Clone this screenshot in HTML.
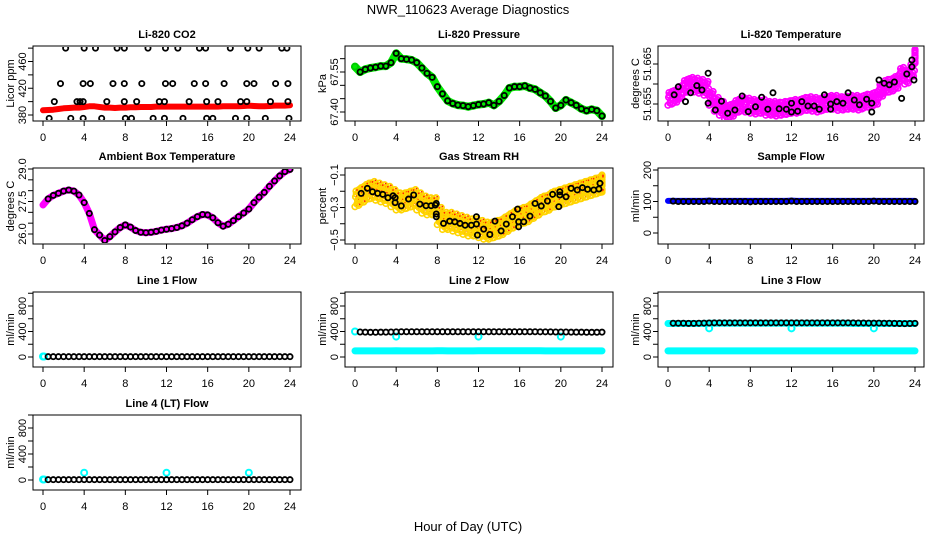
<!DOCTYPE html>
<html><head><meta charset="utf-8"><title>NWR_110623 Average Diagnostics</title>
<style>
html,body{margin:0;padding:0;background:#fff;}
svg{display:block;font-family:"Liberation Sans",Arial,sans-serif;}
</style></head>
<body>
<svg id="fig" width="936" height="540" viewBox="0 0 936 540">
<rect x="0" y="0" width="936" height="540" fill="#fff"/>
<text x="468" y="14" font-size="13" text-anchor="middle">NWR_110623  Average Diagnostics</text>
<text x="468" y="531" font-size="13" text-anchor="middle">Hour of Day (UTC)</text>
</svg>
<script>
// ---------- data ----------
const xTicks = [0,4,8,12,16,20,24];
const halfHours = [0,0.5,1,1.5,2,2.5,3,3.5,4,4.5,5,5.5,6,6.5,7,7.5,8,8.5,9,9.5,10,10.5,11,11.5,12,12.5,13,13.5,14,14.5,15,15.5,16,16.5,17,17.5,18,18.5,19,19.5,20,20.5,21,21.5,22,22.5,23,23.5,24];

// CO2
const co2Red = [387,387.5,388,389,390,390.5,391,391,392,393,393,392,391,391,390.5,391,391,391.5,391.5,392,392,392,392.5,392.5,392.5,392.5,392.5,392.5,392.5,392.5,392.5,392.5,392.5,392.5,392.5,393,393,393,393,393.5,394,393.5,393,393,393.5,394,394,394,394.5];
const co2BlackHours = [2.2,4.0,5.1,7.2,7.9,10.2,11.9,13.1,15.2,15.8,18.2,19.9,21.0,23.2,23.7,
 1.7,3.9,4.6,6.8,7.9,9.6,11.9,12.6,14.7,15.8,17.6,19.8,20.5,22.6,23.8,
 1.1,3.3,3.6,3.9,6.2,7.9,9.1,11.3,11.8,14.2,15.9,17.0,19.2,19.8,22.1,23.8,
 0.6,2.7,3.9,5.7,8.0,8.6,10.7,11.8,13.6,15.9,16.5,18.7,19.8,21.6,23.9];
const co2BlackValues = [480,480,480,480,480,480,480,480,480,480,480,480,480,480,480,
 427,427,427,427,427,427,427,427,427,427,427,427,427,427,427,
 400,400,400,400,400,400,400,400,400,400,400,400,400,400,400,400,
 375,375,375,375,375,375,375,375,375,375,375,375,375,375,375];
const co2Ticks = [380,400,420,440,460,480];
const co2Labels = [380,420,460];

// Pressure
const pressure = [67.570,67.550,67.560,67.565,67.568,67.572,67.572,67.585,67.620,67.600,67.598,67.595,67.585,67.565,67.545,67.530,67.495,67.468,67.442,67.432,67.426,67.424,67.420,67.424,67.428,67.430,67.435,67.425,67.440,67.462,67.490,67.495,67.495,67.498,67.490,67.485,67.472,67.460,67.440,67.415,67.425,67.445,67.435,67.425,67.412,67.405,67.410,67.405,67.385];
const pressureTicks = [67.40,67.45,67.50,67.55,67.60];
const pressureLabels = ["67.40","67.55"];

// Li-820 temperature
const tempMagenta = [51.6565,51.6570,51.6580,51.6595,51.6600,51.6598,51.6595,51.6590,51.6565,51.6550,51.6540,51.6530,51.6535,51.6545,51.6550,51.6548,51.6545,51.6543,51.6545,51.6540,51.6540,51.6538,51.6540,51.6542,51.6545,51.6545,51.6550,51.6552,51.6550,51.6548,51.6552,51.6555,51.6555,51.6552,51.6553,51.6555,51.6555,51.6553,51.6558,51.6560,51.6565,51.6585,51.6595,51.6598,51.6605,51.6625,51.6618,51.6635,51.6670];
const tempSpread = 0.0018;
const tempBlackHours = [0.6,1.0,1.7,2.2,2.8,3.3,3.9,3.9,4.6,5.2,5.8,6.5,7.2,7.8,8.5,9.1,9.7,10.2,10.8,11.5,12.0,12.0,12.6,13.0,13.6,14.2,14.7,15.2,15.8,15.8,16.4,17.0,17.5,18.1,18.6,19.3,19.8,19.8,20.5,21.0,21.5,22.0,22.7,23.2,23.7,23.7,23.9];
const tempBlackValues = [51.6573,51.6593,51.6556,51.6578,51.6596,51.6585,51.6627,51.6552,51.6535,51.6557,51.6527,51.6535,51.6570,51.6531,51.6543,51.6567,51.6537,51.6578,51.6538,51.6537,51.6552,51.6530,51.6532,51.6556,51.6545,51.6545,51.6537,51.6573,51.6550,51.6537,51.6556,51.6552,51.6578,51.6560,51.6548,51.6562,51.6552,51.6530,51.6610,51.6602,51.6598,51.6605,51.6564,51.6625,51.6643,51.6660,51.6610];
const tempTicks = [51.655,51.660,51.665];
const tempLabels = ["51.655","51.665"];

// Ambient box temperature
const ambient = [27.34,27.62,27.78,27.88,27.98,28.03,27.98,27.80,27.45,26.95,26.20,25.95,25.70,25.88,26.10,26.30,26.42,26.32,26.16,26.08,26.06,26.08,26.12,26.18,26.22,26.25,26.30,26.38,26.50,26.66,26.80,26.90,26.88,26.75,26.52,26.36,26.45,26.62,26.80,26.97,27.15,27.45,27.70,27.92,28.20,28.45,28.68,28.88,28.98];
const ambientTicks = [26.0,26.5,27.0,27.5,28.0,28.5,29.0];
const ambientLabels = ["26.0","27.5","29.0"];

// Gas stream RH
const rhCloud = [-0.24,-0.22,-0.20,-0.19,-0.20,-0.21,-0.22,-0.24,-0.26,-0.26,-0.25,-0.24,-0.26,-0.28,-0.29,-0.29,-0.35,-0.38,-0.38,-0.39,-0.40,-0.41,-0.42,-0.42,-0.43,-0.44,-0.44,-0.43,-0.42,-0.40,-0.38,-0.36,-0.35,-0.34,-0.32,-0.30,-0.28,-0.27,-0.25,-0.24,-0.23,-0.22,-0.21,-0.20,-0.19,-0.18,-0.17,-0.16,-0.15];
const rhSpread = 0.055;
const rhBlackHours = [0.6,1.2,1.7,2.2,2.7,3.2,3.7,3.9,3.9,4.5,5.2,5.7,6.3,6.9,7.4,7.8,7.9,7.9,7.9,8.6,9.2,9.7,10.2,10.7,11.3,11.8,11.8,11.9,12.5,13.1,13.6,14.2,14.7,15.3,15.8,15.9,15.9,16.4,17.0,17.5,18.1,18.7,19.2,19.8,19.9,19.9,20.5,21.0,21.6,22.1,22.6,23.2,23.7,23.8];
const rhBlackValues = [-0.213,-0.182,-0.203,-0.213,-0.219,-0.240,-0.228,-0.240,-0.270,-0.290,-0.248,-0.223,-0.279,-0.289,-0.289,-0.285,-0.275,-0.340,-0.357,-0.398,-0.384,-0.388,-0.398,-0.409,-0.409,-0.357,-0.402,-0.470,-0.433,-0.466,-0.384,-0.444,-0.402,-0.357,-0.310,-0.388,-0.419,-0.388,-0.353,-0.275,-0.291,-0.260,-0.219,-0.295,-0.203,-0.223,-0.234,-0.182,-0.192,-0.178,-0.188,-0.192,-0.186,-0.151];
const rhTicks = [-0.5,-0.4,-0.3,-0.2,-0.1];
const rhLabels = ["-0.5","-0.3","-0.1"];

// Sample flow
const sampleBlue = [102,102,102,102,102,102,102,102,103,102,102,102,102,102,102,102,102,102,102,102,102,102,102,102,103,102,102,102,102,102,102,102,102,102,102,102,102,102,102,102,102,102,102,102,102,102,102,102,102];
const sampleBlack = [101,100,100,100,100,100,100,101,100,100,100,100,100,100,100,99,100,100,100,100,100,100,100,101,100,100,100,100,100,100,100,100,100,100,100,100,100,100,100,101,100,100,100,100,100,100,100,100];
const sampleTicks = [0,50,100,150,200];
const sampleLabels = [0,100,200];

// Line flows
const flowTicks = [0,200,400,600,800,1000];
const flowLabels = [0,400,800];
const line1Black = [5,5,5,5,5,5,5,5,5,5,5,5,5,5,5,5,5,5,5,5,5,5,5,5,5,5,5,5,5,5,5,5,5,5,5,5,5,5,5,5,5,5,5,5,5,5,5,5];
const line1CyanHours = [0,0.1];
const line1CyanValues = [8,8];
const line2Black = [392,390,388,388,390,390,392,394,396,396,396,396,396,396,396,396,396,396,396,396,396,396,396,396,396,396,396,396,396,396,396,396,396,396,396,395,395,394,392,392,392,390,390,390,388,388,388,390];
const line2Low = [95,95,95,95,95,95,95,95,97,95,95,95,95,95,95,95,97,97,95,95,95,95,95,95,97,97,97,97,97,97,97,97,97,97,97,97,97,95,95,95,95,95,95,95,95,95,95,95,95];
const line2CyanHours = [0,4,12,20];
const line2CyanValues = [400,320,320,320];
const line3Black = [530,530,530,528,528,530,532,534,536,536,536,536,536,536,536,536,536,536,536,536,536,536,536,536,536,536,536,536,536,536,536,536,536,536,536,536,534,534,532,532,532,530,530,528,526,524,526,528];
const line3High = [525,525,525,525,525,525,525,525,530,530,530,530,530,530,530,530,530,530,530,530,530,530,530,530,530,530,530,530,530,530,530,530,530,530,530,530,525,525,525,525,525,525,525,525,525,525,525,525,525];
const line3Low = [95,95,95,95,95,95,95,95,95,95,95,95,95,95,95,95,95,95,95,95,95,95,95,95,95,95,95,95,95,95,95,95,95,95,95,95,95,95,95,95,95,95,95,95,95,95,95,95,95];
const line3CyanHours = [4,12,20];
const line3CyanValues = [450,450,450];
const line4Black = [5,5,5,5,5,5,5,5,5,5,5,5,5,5,5,5,5,5,5,5,5,5,5,5,5,5,5,5,5,5,5,5,5,5,5,5,5,5,5,5,5,5,5,5,5,5,5,5];
const line4CyanHours = [0,0.1,4,12,20];
const line4CyanValues = [8,8,112,112,112];

// ---------- drawing ----------
const NS = "http://www.w3.org/2000/svg";
const svg = document.getElementById("fig");
const defs = document.createElementNS(NS, "defs");
svg.appendChild(defs);
const cols = [[33,301],[345,613],[658,924]];
const rows = [[46,121],[168,244],[292,367],[415,490]];
let clipN = 0;
function mk(tag, attrs, parent){
  const e = document.createElementNS(NS, tag);
  for (const k in attrs) e.setAttribute(k, attrs[k]);
  (parent||svg).appendChild(e);
  return e;
}
function slug(s){return s.toLowerCase().replace(/[^a-z0-9]+/g,'-').replace(/^-|-$/g,'');}

function panel(c, r, title, ylab, v1, y1, v2, y2, ticks, labels){
  const L = cols[c][0], R = cols[c][1], T = rows[r][0], B = rows[r][1];
  const g = mk("g", {});
  
  
  const x0 = L + 10, x24 = x0 + 247;
  const X = h => x0 + (h/24)*(x24-x0);
  const Y = v => y1 + (v - v1)*(y2-y1)/(v2-v1);
  const cid = "clip" + (clipN++);
  const cp = mk("clipPath", {id:cid}, defs);
  mk("rect", {x:L+1, y:T+1, width:R-L-2, height:B-T-2}, cp);
  const t = mk("text", {x:(L+R)/2, y:T-8, "font-size":11, "font-weight":"bold", "text-anchor":"middle"}, g);
  t.textContent = title;
  
  
  const yl = mk("text", {x:L-19, y:(T+B)/2, "font-size":11, "text-anchor":"middle", transform:`rotate(-90 ${L-19} ${(T+B)/2})`}, g);
  yl.textContent = ylab;
  
  
  xTicks.forEach(h => {
    mk("line", {x1:X(h), x2:X(h), y1:B, y2:B+5, stroke:"#000"}, g);
    const tx = mk("text", {x:X(h), y:B+20, "font-size":11, "text-anchor":"middle"}, g);
    tx.textContent = h;
    
    
  });
  ticks.forEach(v => { mk("line", {x1:L-5, x2:L, y1:Y(v), y2:Y(v), stroke:"#000"}, g); });
  labels.forEach(v => {
    const yy = Y(parseFloat(v));
    const tx = mk("text", {x:L-7, y:yy, "font-size":11, "text-anchor":"middle", transform:`rotate(-90 ${L-7} ${yy})`}, g);
    tx.textContent = String(v).replace('-', '\u2212');
    
    
  });
  const clip = mk("g", {"clip-path":`url(#${cid})`}, g);
  
  
  const box = mk("rect", {x:L, y:T, width:R-L, height:B-T, fill:"none", stroke:"#000", "stroke-width":1}, g);
  
  
  return {X, Y, g:clip, L, R, T, B};
}
function pts(p, hrs, vals, color, r, sw, name){
  const g = mk("g", {}, p.g);
  
  
  vals.forEach((v,i) => {
    mk("circle", {cx:p.X(hrs[i]), cy:p.Y(v), r:r, fill:"none", stroke:color, "stroke-width":sw}, g);
  });
}
function band(p, hrs, vals, color, w, name){
  const d = vals.map((v,i)=>(i?"L":"M")+p.X(hrs[i]).toFixed(1)+" "+p.Y(v).toFixed(1)).join(" ");
  const e = mk("path", {d:d, fill:"none", stroke:color, "stroke-width":w, "stroke-linecap":"round", "stroke-linejoin":"round"}, p.g);
  
  
}
// cloud rendering layout (visual offsets only)
const cloudOffsets = [[0,-1],[0.13,0.4],[0.25,-0.3],[0.38,0.9],[0.06,0.1],[0.19,-0.7],[0.31,0.6],[0.44,-0.1],[0.1,0.75],[0.35,-0.85]];
function cloud(p, hrs, vals, spread, color, color2, name){
  const g = mk("g", {}, p.g);
  
  
  vals.forEach((v,i) => {
    cloudOffsets.forEach(o => {
      const hx = Math.min(hrs[i] + o[0], 24);
      const cx = p.X(hx), cy = p.Y(v + o[1]*spread);
      mk("circle", {cx:cx, cy:cy, r:2.8, fill:"none", stroke:color, "stroke-width":1.7}, g);
      if (color2) mk("circle", {cx:cx+1, cy:cy-1, r:0.9, fill:color2}, g);
    });
  });
}
const blackHours = halfHours.slice(1);

// Row 1
let p = panel(0,0,"Li-820 CO2","Licor ppm",380,115,460,61.5,co2Ticks,co2Labels);
band(p, halfHours, co2Red, "#ff0000", 6, "co2-red-series");
pts(p, co2BlackHours, co2BlackValues, "#000", 2.6, 1.8, "co2-black-points");

p = panel(1,0,"Li-820 Pressure","kPa",67.40,112,67.55,72,pressureTicks,pressureLabels);
band(p, halfHours, pressure, "#00ee00", 8, "pressure-green-series");
pts(p, halfHours, pressure, "#00cc00", 3, 2, "pressure-green-points");
pts(p, blackHours, pressure.slice(1), "#000", 2.6, 1.8, "pressure-black-points");

p = panel(2,0,"Li-820 Temperature","degrees C",51.655,104,51.665,64,tempTicks,tempLabels);
cloud(p, halfHours, tempMagenta, tempSpread, "#ff00ff", null, "temperature-magenta-cloud");
pts(p, tempBlackHours, tempBlackValues, "#000", 2.6, 1.8, "temperature-black-points");

// Row 2
p = panel(0,1,"Ambient Box Temperature","degrees C",26.0,234,29.0,169,ambientTicks,ambientLabels);
band(p, halfHours, ambient, "#ff00ff", 7, "ambient-magenta-series");
pts(p, blackHours, ambient.slice(1), "#000", 2.6, 1.8, "ambient-black-points");

p = panel(1,1,"Gas Stream RH","percent",-0.1,175,-0.5,240,rhTicks,rhLabels);
cloud(p, halfHours, rhCloud, rhSpread, "#ffd400", "#ff2000", "rh-yellow-cloud");
pts(p, rhBlackHours, rhBlackValues, "#000", 2.6, 1.8, "rh-black-points");

p = panel(2,1,"Sample Flow","ml/min",0,233,200,170,sampleTicks,sampleLabels);
band(p, halfHours, sampleBlue, "#0000ff", 6, "sample-flow-blue-series");
pts(p, blackHours, sampleBlack, "#000", 2.6, 1.8, "sample-flow-black-points");

// Row 3
p = panel(0,2,"Line 1 Flow","ml/min",0,357,800,306,flowTicks,flowLabels);
pts(p, line1CyanHours, line1CyanValues, "#00ffff", 3, 2, "line1-cyan-points");
pts(p, blackHours, line1Black, "#000", 2.6, 1.8, "line1-black-points");

p = panel(1,2,"Line 2 Flow","ml/min",0,357,800,306,flowTicks,flowLabels);
band(p, halfHours, line2Low, "#00ffff", 7, "line2-cyan-low-series");
pts(p, line2CyanHours, line2CyanValues, "#00ffff", 3, 2, "line2-cyan-points");
pts(p, blackHours, line2Black, "#000", 2.6, 1.8, "line2-black-points");

p = panel(2,2,"Line 3 Flow","ml/min",0,357,800,306,flowTicks,flowLabels);
band(p, halfHours, line3Low, "#00ffff", 7, "line3-cyan-low-series");
band(p, halfHours, line3High, "#00ffff", 7, "line3-cyan-high-series");
pts(p, line3CyanHours, line3CyanValues, "#00ffff", 3, 2, "line3-cyan-points");
pts(p, blackHours, line3Black, "#000", 2.6, 1.8, "line3-black-points");

// Row 4
p = panel(0,3,"Line 4 (LT) Flow","ml/min",0,480,800,428,flowTicks,flowLabels);
pts(p, line4CyanHours, line4CyanValues, "#00ffff", 3, 2, "line4-cyan-points");
pts(p, blackHours, line4Black, "#000", 2.6, 1.8, "line4-black-points");
</script>
</body></html>
